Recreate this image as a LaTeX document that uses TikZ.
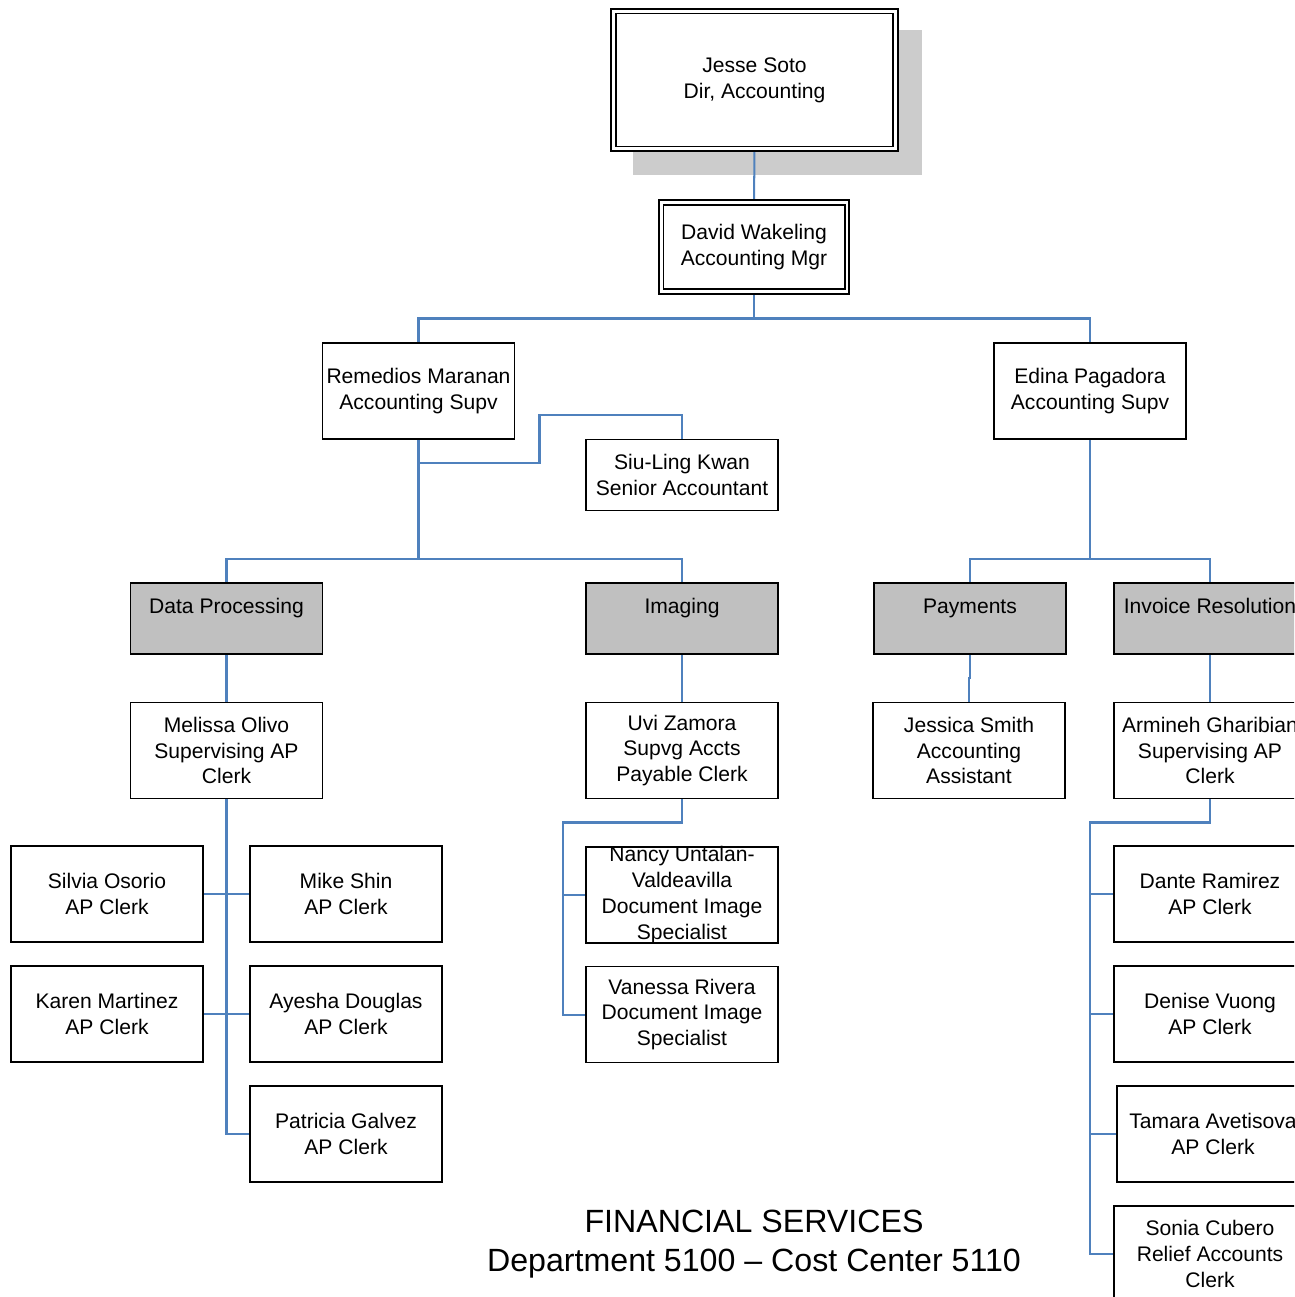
\documentclass[tikz,border=0pt]{standalone}
\usepackage{fontspec}
\setmainfont{Liberation Sans}
\usepackage{xcolor}
\usetikzlibrary{backgrounds}
\definecolor{linkblue}{RGB}{79,129,189}
\definecolor{unitgray}{RGB}{192,192,192}
\definecolor{shadowgray}{RGB}{204,204,204}

\begin{document}
\begin{tikzpicture}[x=0.02cm,y=-0.02cm,
  box/.style={draw, fill=white, line width=1pt, minimum width=3.84cm, minimum height=1.92cm,
    inner sep=1pt, outer sep=0pt, align=center, font=\fontsize{12}{14.7}\selectfont},
  headbox/.style={box, double, line width=1.1pt, double distance=1.7pt},
  unit/.style={box, fill=unitgray, minimum height=1.42cm, inner ysep=0pt, text height=17pt, text depth=23pt},
  link/.style={draw=linkblue, line width=1.15pt}]
\useasboundingbox (0,0) rectangle (1294,1297);
\clip (0,0) rectangle (1294,1297);
% director and manager
\node[headbox, minimum width=5.64cm, minimum height=2.76cm] (jesse) at (754.5,80) {Jesse Soto\\Dir, Accounting};
\node[headbox, minimum width=3.72cm, minimum height=1.78cm] (david) at (754,247) {David Wakeling\\Accounting Mgr};
% supervisors
\node[box] (rem) at (418.5,391) {Remedios Maranan\\Accounting Supv};
\node[box] (edina) at (1090,391) {Edina Pagadora\\Accounting Supv};
\node[box, minimum height=1.42cm] (siu) at (682,475) {Siu-Ling Kwan\\Senior Accountant};
% units
\node[unit] (dp) at (226.5,618.5) {Data Processing};
\node[unit] (img) at (682,618.5) {Imaging};
\node[unit] (pay) at (970,618.5) {Payments};
\node[unit] (inv) at (1210,618.5) {Invoice Resolution};
% unit leads
\node[box] (mel) at (226.5,750.5) {Melissa Olivo\\Supervising AP\\Clerk};
\node[box] (uvi) at (682,750.5) {Uvi Zamora\\Supvg Accts\\Payable Clerk};
\node[box] (jes) at (969,750.5) {Jessica Smith\\Accounting\\Assistant};
\node[box] (arm) at (1210,750.5) {Armineh Gharibian\\Supervising AP\\Clerk};
% data processing clerks
\node[box] (silvia) at (107,894) {Silvia Osorio\\AP Clerk};
\node[box] (mike) at (346,894) {Mike Shin\\AP Clerk};
\node[box] (karen) at (107,1014) {Karen Martinez\\AP Clerk};
\node[box] (ayesha) at (346,1014) {Ayesha Douglas\\AP Clerk};
\node[box] (patricia) at (346,1134) {Patricia Galvez\\AP Clerk};
% imaging staff
\node[box, inner ysep=-2pt] (nancy) at (682,895) {Nancy Untalan-\\Valdeavilla\\Document Image\\Specialist};
\node[box] (vanessa) at (682,1014.5) {Vanessa Rivera\\Document Image\\Specialist};
% invoice resolution clerks
\node[box] (dante) at (1210,894) {Dante Ramirez\\AP Clerk};
\node[box] (denise) at (1210,1014) {Denise Vuong\\AP Clerk};
\node[box] (tamara) at (1213,1134) {Tamara Avetisova\\AP Clerk};
\node[box] (sonia) at (1210,1254) {Sonia Cubero\\Relief Accounts\\Clerk};
% title
\node[font=\fontsize{18.3}{22.1}\selectfont, align=center] (title) at (754,1244) {FINANCIAL SERVICES\\Department 5100 \textendash{} Cost Center 5110};

\begin{scope}[on background layer]
\fill[shadowgray] (633,30) rectangle (922,175);
\draw[link] (jesse.south) -- (david.north);
\draw[link] (david.south) -- ++(0,27) coordinate (mgrbus) -| (rem.north) (mgrbus) -| (edina.north);
\draw[link] (rem.south) -- ++(0,24) -- ++(121,0) -- ++(0,-48) -| (siu.north);
\draw[link] (rem.south) -- ++(0,120) coordinate (supbus) -| (dp.north) (supbus) -| (img.north);
\draw[link] (edina.south) -- ++(0,120) coordinate (edbus) -| (pay.north) (edbus) -| (inv.north);
\draw[link] (dp.south) -- (mel.north);
\draw[link] (img.south) -- (uvi.north);
\draw[link] (pay.south) -- ++(0,24) -| (jes.north);
\draw[link] (inv.south) -- (arm.north);
\draw[link] (mel.south) |- (patricia.west);
\draw[link] (silvia.east) -- (mike.west);
\draw[link] (karen.east) -- (ayesha.west);
\draw[link] (uvi.south) -- ++(0,24) -- ++(-119,0) coordinate (uvibus) |- (vanessa.west) (uvibus) |- (nancy.west);
\draw[link] (arm.south) -- ++(0,24) -- ++(-120,0) coordinate (armbus) |- (sonia.west)
  (armbus) |- (dante.west) (armbus) |- (denise.west) (armbus) |- (tamara.west);
\end{scope}
\end{tikzpicture}
\end{document}
